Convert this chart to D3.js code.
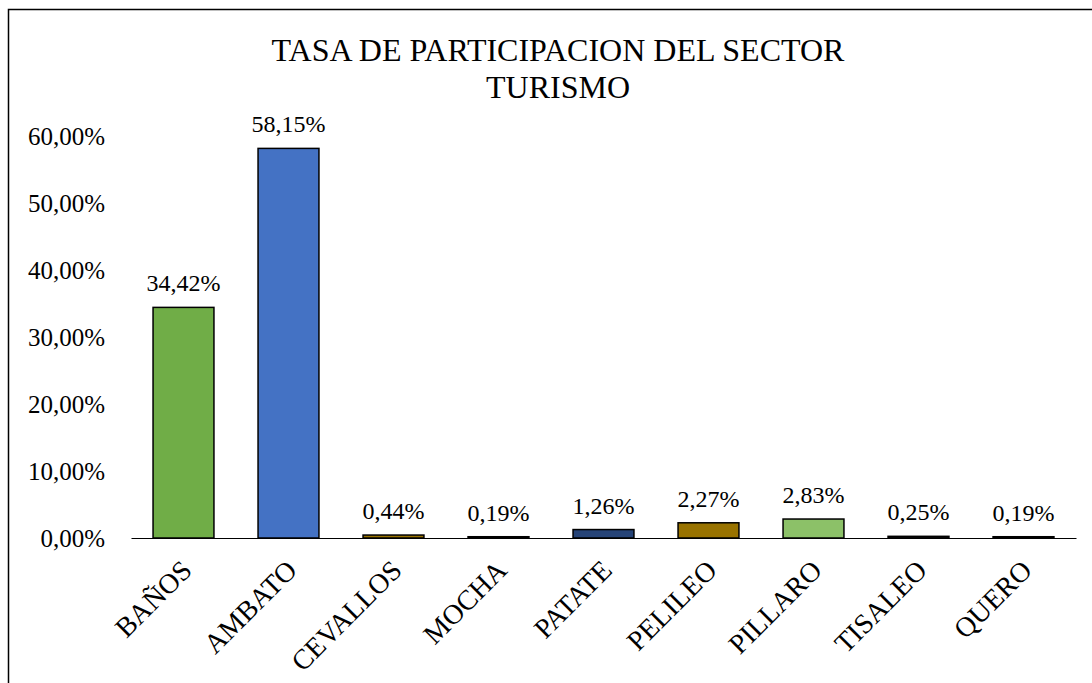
<!DOCTYPE html>
<html>
<head>
<meta charset="utf-8">
<script src="https://cdn.jsdelivr.net/npm/d3@7"></script>
<style>
  body { margin: 0; background: #fff; }
  svg { display: block; font-family: "Liberation Serif", "Times New Roman", serif; }
</style>
</head>
<body>
<div id="chart"></div>
<script>
const categories = ["BAÑOS", "AMBATO", "CEVALLOS", "MOCHA", "PATATE", "PELILEO", "PILLARO", "TISALEO", "QUERO"];
const values = [0.3442, 0.5815, 0.0044, 0.0019, 0.0126, 0.0227, 0.0283, 0.0025, 0.0019];
const barColors = ["#70AD47", "#4472C4", "#997300", "#43682B", "#264478", "#997300", "#8CC168", "#222222", "#333333"];
const yTicks = [0, 0.1, 0.2, 0.3, 0.4, 0.5, 0.6];
const titleLines = ["TASA DE PARTICIPACION DEL SECTOR", "TURISMO"];

const width = 1092, height = 683;
const margin = { top: 136, right: 16, bottom: 145, left: 131 };

const fmt = v => (v * 100).toFixed(2).replace(".", ",") + "%";

const svg = d3.select("#chart").append("svg")
    .attr("width", width)
    .attr("height", height);

// chart frame (right and bottom edges fall off the page)
svg.append("rect")
    .attr("x", 8.5).attr("y", 9.5)
    .attr("width", 1200).attr("height", 800)
    .attr("fill", "#fff")
    .attr("stroke", "#000")
    .attr("stroke-width", 1.5);

svg.append("text")
    .attr("text-anchor", "middle")
    .attr("font-size", 32)
    .selectAll("tspan")
    .data(titleLines)
    .join("tspan")
    .attr("x", 558)
    .attr("y", (d, i) => 61 + i * 37)
    .text(d => d);

const x = d3.scaleBand()
    .domain(categories)
    .range([margin.left, width - margin.right])
    .paddingInner(0.42)
    .paddingOuter(0.21);

const y = d3.scaleLinear()
    .domain([0, 0.6])
    .range([height - margin.bottom, margin.top]);

const g = svg.append("g");

// y axis labels (no line, no gridlines)
g.append("g")
    .attr("transform", `translate(${margin.left - 26},0)`)
    .call(d3.axisLeft(y).tickValues(yTicks).tickFormat(fmt).tickSize(0).tickPadding(0))
    .call(a => a.select(".domain").remove())
    .selectAll("text")
    .attr("font-family", "Liberation Serif")
    .attr("font-size", 25)
    .attr("fill", "#000")
    .attr("dy", "0.35em");

// bars
g.selectAll("rect.bar")
    .data(values)
    .join("rect")
    .attr("class", "bar")
    .attr("x", (d, i) => x(categories[i]))
    .attr("y", d => y(d))
    .attr("width", x.bandwidth())
    .attr("height", d => y(0) - y(d))
    .attr("fill", (d, i) => barColors[i])
    .attr("stroke", "#000")
    .attr("stroke-width", 1.5);

// x axis
g.append("g")
    .attr("transform", `translate(0,${y(0)})`)
    .call(d3.axisBottom(x).tickSize(0).tickSizeOuter(0).tickPadding(0))
    .call(a => a.select(".domain").attr("stroke", "#000").attr("stroke-width", 1.2))
    .selectAll("text")
    .attr("font-family", "Liberation Serif")
    .attr("font-size", 28)
    .attr("fill", "#000")
    .attr("text-anchor", "end")
    .attr("dy", 0)
    .attr("transform", `translate(10,34) rotate(-45)`);

// value labels
g.selectAll("text.val")
    .data(values)
    .join("text")
    .attr("class", "val")
    .attr("x", (d, i) => x(categories[i]) + x.bandwidth() / 2)
    .attr("y", d => y(d) - 16)
    .attr("text-anchor", "middle")
    .attr("font-size", 24)
    .text(fmt);
</script>
</body>
</html>
